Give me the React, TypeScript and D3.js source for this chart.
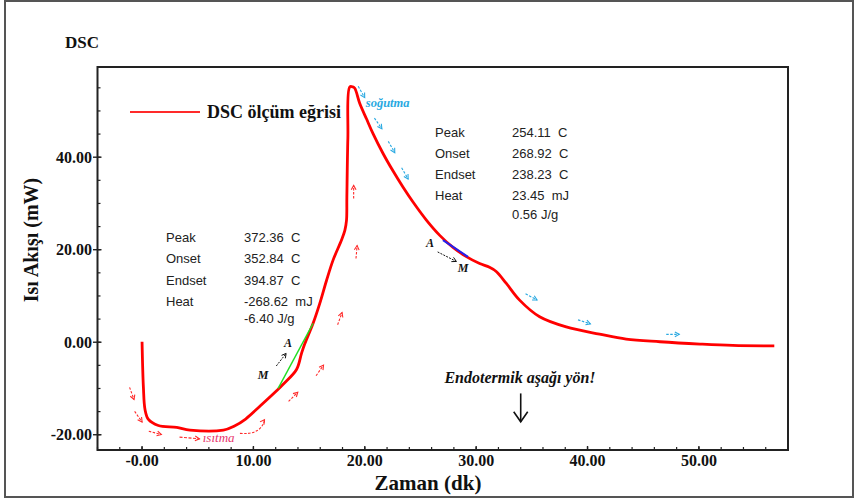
import React from "react";
import * as d3 from "d3";

// ---- data ----
const curveX = [0.0, 0.12, 0.27, 0.57, 1.46, 3.11, 4.3, 7.3, 8.3, 9.3, 10.6, 12.08, 12.67, 13.87, 14.32, 14.62, 15.36, 15.96, 16.57, 17.16, 17.91, 18.21, 18.36, 18.39, 18.48, 18.65, 18.92, 19.1, 19.55, 20.15, 20.74, 21.64, 22.54, 23.44, 24.33, 25.53, 26.73, 27.92, 29.12, 30.31, 31.2, 31.8, 32.71, 33.9, 35.7, 38.09, 41.08, 43.47, 46.5, 50.1, 53.03, 56.77];
const curveY = [0.1, -9.64, -14.6, -16.7, -18.0, -18.4, -19.0, -19.0, -18.1, -16.6, -13.8, -10.5, -9.1, -5.9, -2.4, -0.3, 4.1, 8.4, 13.4, 17.8, 22.1, 24.2, 26.4, 31.3, 44.1, 55.2, 55.2, 54.9, 51.6, 48.3, 45.1, 40.8, 37.0, 33.5, 30.3, 26.4, 23.1, 20.5, 18.5, 17.0, 16.2, 15.3, 12.7, 9.1, 5.5, 3.3, 1.75, 0.67, 0.1, -0.4, -0.7, -0.8];

const xTicksMajor = [0, 10, 20, 30, 40, 50];
const xTickLabels = ["-0.00", "10.00", "20.00", "30.00", "40.00", "50.00"];
const yTicksMajor = [-20, 0, 20, 40];
const yTickLabels = ["-20.00", "0.00", "20.00", "40.00"];

const leftLabels = ["Peak", "Onset", "Endset", "Heat", ""];
const leftValues = ["372.36  C", "352.84  C", "394.87  C", "-268.62  mJ", "-6.40 J/g"];
const rightLabels = ["Peak", "Onset", "Endset", "Heat", ""];
const rightValues = ["254.11  C", "268.92  C", "238.23  C", "23.45  mJ", "0.56 J/g"];

// tangent construction lines [x1, y1, x2, y2] in data units
const greenTangent = [12.22, -9.99, 15.36, 4.06];
const blueTangent = [27.02, 22.08, 29.26, 18.46];

// direction arrows: [x, y, angleDeg]
const heatingArrows = [
  [-0.92, -11.07, 70],
  [-0.33, -16.1, 55],
  [1.17, -19.6, 15],
  [13.57, -11.8, -45],
  [15.96, -6.1, -55],
  [17.76, 5.1, -70],
  [19.26, 19.5, -85],
  [19.0, 32.5, -90],
];
const coolingArrows = [
  [19.7, 54.1, 60],
  [21.2, 47.3, 55],
  [22.4, 42.2, 60],
  [23.6, 36.5, 60],
  [34.95, 9.8, 28],
  [39.7, 4.4, 18],
  [47.65, 1.7, 0],
];

const W = 856;
const H = 503;

function arrowPath(cx: number, cy: number, ang: number, len: number) {
  const a = (ang * Math.PI) / 180;
  const dx = Math.cos(a), dy = Math.sin(a);
  const x1 = cx - (dx * len) / 2, y1 = cy - (dy * len) / 2;
  const x2 = cx + (dx * len) / 2, y2 = cy + (dy * len) / 2;
  const h = 5;
  const a1 = a + Math.PI - 0.5, a2 = a + Math.PI + 0.5;
  return {
    shaft: `M${x1},${y1}L${x2},${y2}`,
    head: `M${x2 + Math.cos(a1) * h},${y2 + Math.sin(a1) * h}L${x2},${y2}L${x2 + Math.cos(a2) * h},${y2 + Math.sin(a2) * h}`,
  };
}

export default function App() {
  const x = d3.scaleLinear().domain([-4, 58]).range([97.5, 788]);
  const y = d3.scaleLinear().domain([-23.3, 59.5]).range([450, 67]);
  const pts: [number, number][] = curveX.map((v, i) => [v, curveY[i]]);
  const line = d3.line<[number, number]>().x((d) => x(d[0])).y((d) => y(d[1])).curve(d3.curveCatmullRom.alpha(0.5));

  const xMinor = d3.range(-4, 58.01, 2);
  const yMinor = d3.range(-20, 59, 5);
  const serif = "'Liberation Serif', 'Times New Roman', serif";
  const sans = "'Liberation Sans', Arial, sans-serif";
  const red = "#ff2a2a";
  const cyan = "#29a9e1";

  const arrowEls = (arr: number[][], color: string, keyp: string) =>
    arr.map((a, i) => {
      const p = arrowPath(x(a[0]), y(a[1]), a[2], 13);
      return (
        <g key={keyp + i} stroke={color} strokeWidth={1.1} fill="none">
          <path d={p.shaft} strokeDasharray="2.5,1.5" />
          <path d={p.head} />
        </g>
      );
    });

  const isA = arrowPath(x(4.26), y(-20.7), 5, 20);
  const cx1 = x(8.79), cy1 = y(-19.7), cx2 = x(11.03), cy2 = y(-16.7);
  const curvedD = `M${cx1},${cy1}Q${cx2 - 4},${cy1 + 2} ${cx2},${cy2}`;
  const cHead = arrowPath(cx2 - 1, cy2 + 1, -55, 2);

  const endX = x(34.0);
  const endY1 = y(-11.07), endY2 = y(-17.2);
  const leftRows = [241.5, 263, 284.5, 305.5, 323];
  const rightRows = [137, 158, 179, 200, 219];

  return (
    <svg width={W} height={H} style={{ position: "absolute", left: 0, top: 0, background: "#fff" }}>
      <rect x={0} y={0} width={W} height={H} fill="#fff" />
      <rect x={5} y={1} width={848} height={496} fill="none" stroke="#555" strokeWidth={2} />

      <text x={65} y={48} fontFamily={serif} fontWeight="bold" fontSize={17} fill="#111">DSC</text>

      <rect x={97.5} y={67} width={788 - 97.5} height={450 - 67} fill="none" stroke="#222" strokeWidth={2} />

      {xMinor.map((t) => (
        <line key={"xm" + t} x1={x(t)} x2={x(t)} y1={450} y2={447} stroke="#222" strokeWidth={1.2} />
      ))}
      {xTicksMajor.map((t, i) => (
        <g key={"xt" + t}>
          <line x1={x(t)} x2={x(t)} y1={450} y2={446} stroke="#222" strokeWidth={1.4} />
          <text x={x(t)} y={466} textAnchor="middle" fontFamily={serif} fontWeight="bold" fontSize={16} fill="#111">
            {xTickLabels[i]}
          </text>
        </g>
      ))}
      {yMinor.map((t) => (
        <line key={"ym" + t} x1={97.5} x2={100.5} y1={y(t)} y2={y(t)} stroke="#222" strokeWidth={1.2} />
      ))}
      {yTicksMajor.map((t, i) => (
        <g key={"yt" + t}>
          <line x1={93} x2={101.5} y1={y(t)} y2={y(t)} stroke="#222" strokeWidth={1.4} />
          <text x={92} y={y(t) + 5.5} textAnchor="end" fontFamily={serif} fontWeight="bold" fontSize={16} fill="#111">
            {yTickLabels[i]}
          </text>
        </g>
      ))}

      <text transform="translate(38,240) rotate(-90)" textAnchor="middle" fontFamily={serif} fontWeight="bold" fontSize={20} fill="#111">
        Isı Akışı (mW)
      </text>
      <text x={428} y={490} textAnchor="middle" fontFamily={serif} fontWeight="bold" fontSize={21} fill="#111">
        Zaman (dk)
      </text>

      <line x1={130} x2={200} y1={112} y2={112} stroke={red} strokeWidth={2} />
      <text x={207} y={118} fontFamily={serif} fontWeight="bold" fontSize={18} fill="#111">DSC ölçüm eğrisi</text>

      <path d={line(pts) || ""} fill="none" stroke="#ff0000" strokeWidth={2.8} strokeLinejoin="round" />

      <line x1={x(greenTangent[0])} y1={y(greenTangent[1])} x2={x(greenTangent[2])} y2={y(greenTangent[3])} stroke="#22dd22" strokeWidth={1.4} />
      <line x1={x(blueTangent[0])} y1={y(blueTangent[1])} x2={x(blueTangent[2])} y2={y(blueTangent[3])} stroke="#2222ee" strokeWidth={2} />

      <g fontFamily={serif} fontStyle="italic" fontWeight="bold" fontSize={12} fill="#111">
        <text x={288} y={347} textAnchor="middle">A</text>
        <text x={263} y={379} textAnchor="middle">M</text>
        <text x={430} y={247} textAnchor="middle">A</text>
        <text x={463} y={272} textAnchor="middle">M</text>
      </g>
      {(() => {
        const a1 = arrowPath(281.2, 359.7, -52, 16);
        const a2 = arrowPath(447, 256.7, 27, 21);
        return (
          <g stroke="#111" strokeWidth={1} fill="none">
            <path d={a1.shaft} strokeDasharray="2,1.2" />
            <path d={a1.head} />
            <path d={a2.shaft} strokeDasharray="2,1.2" />
            <path d={a2.head} />
          </g>
        );
      })()}

      {arrowEls(heatingArrows, red, "h")}
      {arrowEls(coolingArrows, cyan, "c")}
      <g stroke={red} strokeWidth={1.1} fill="none">
        <path d={isA.shaft} strokeDasharray="3,1.5" />
        <path d={isA.head} />
        <path d={curvedD} strokeDasharray="2.5,1.5" />
        <path d={cHead.head} />
      </g>
      <text x={x(5.45)} y={y(-21.5)} fontFamily={serif} fontStyle="italic" fontSize={13} fill="#e8366d">ısıtma</text>
      <text x={x(20.09)} y={y(50.8)} fontFamily={serif} fontStyle="italic" fontWeight="bold" fontSize={12.5} fill={cyan}>soğutma</text>

      <g fontFamily={sans} fontSize={13} fill="#222" style={{ whiteSpace: "pre" }}>
        {leftLabels.map((l, i) => (
          <g key={"l" + i}>
            <text x={166} y={leftRows[i]}>{l}</text>
            <text x={244} y={leftRows[i]} xmlSpace="preserve">{leftValues[i]}</text>
          </g>
        ))}
        {rightLabels.map((l, i) => (
          <g key={"r" + i}>
            <text x={435} y={rightRows[i]}>{l}</text>
            <text x={512} y={rightRows[i]} xmlSpace="preserve">{rightValues[i]}</text>
          </g>
        ))}
      </g>

      <text x={520} y={383} textAnchor="middle" fontFamily={serif} fontStyle="italic" fontWeight="bold" fontSize={16} fill="#111">
        Endotermik aşağı yön!
      </text>
      <g stroke="#111" strokeWidth={1.6} fill="none">
        <line x1={endX} x2={endX} y1={endY1} y2={endY2} />
        <path d={`M${endX - 7},${endY2 - 10}L${endX},${endY2}L${endX + 7},${endY2 - 10}`} />
      </g>
    </svg>
  );
}
